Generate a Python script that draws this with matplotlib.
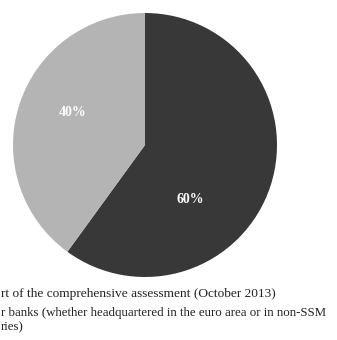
import matplotlib
matplotlib.use("Agg")
import matplotlib.pyplot as plt

# legend texts as visible in the (cropped) reference
legend_lines = ["rt of the comprehensive assessment (October 2013)",
                "r banks (whether headquartered in the euro area or in non-SSM",
                "ries)"]
shares = [60, 40]
colors = ["#383838", "#b4b4b4"]

W, H = 337, 340
fig = plt.figure(figsize=(W / 100, H / 100), dpi=100)
cx, cy, r = 145, 145, 132
ax = fig.add_axes([(cx - r) / W, 1 - (cy + r) / H, 2 * r / W, 2 * r / H])
wedges, texts, autotexts = ax.pie(shares, colors=colors, startangle=90, counterclock=False,
                                  autopct="%d%%", pctdistance=0.6,
                                  textprops=dict(color="white", fontweight="bold",
                                                 family="Liberation Serif", fontsize=10))
ax.set_xlim(-1, 1)
ax.set_ylim(-1, 1)
ax.set_aspect("auto")
autotexts[0].set_position((0.34, -0.41))
autotexts[1].set_position((-0.55, 0.25))

ys = [294, 313, 327]
sizes = [9.6, 9.3, 9.3]
for txt, y, fs in zip(legend_lines, ys, sizes):
    fig.text(1 / W, 1 - y / H, txt, ha="left", va="center",
             family="Liberation Serif", fontsize=fs, color="#222222")

fig.savefig("out.png", dpi=100)
